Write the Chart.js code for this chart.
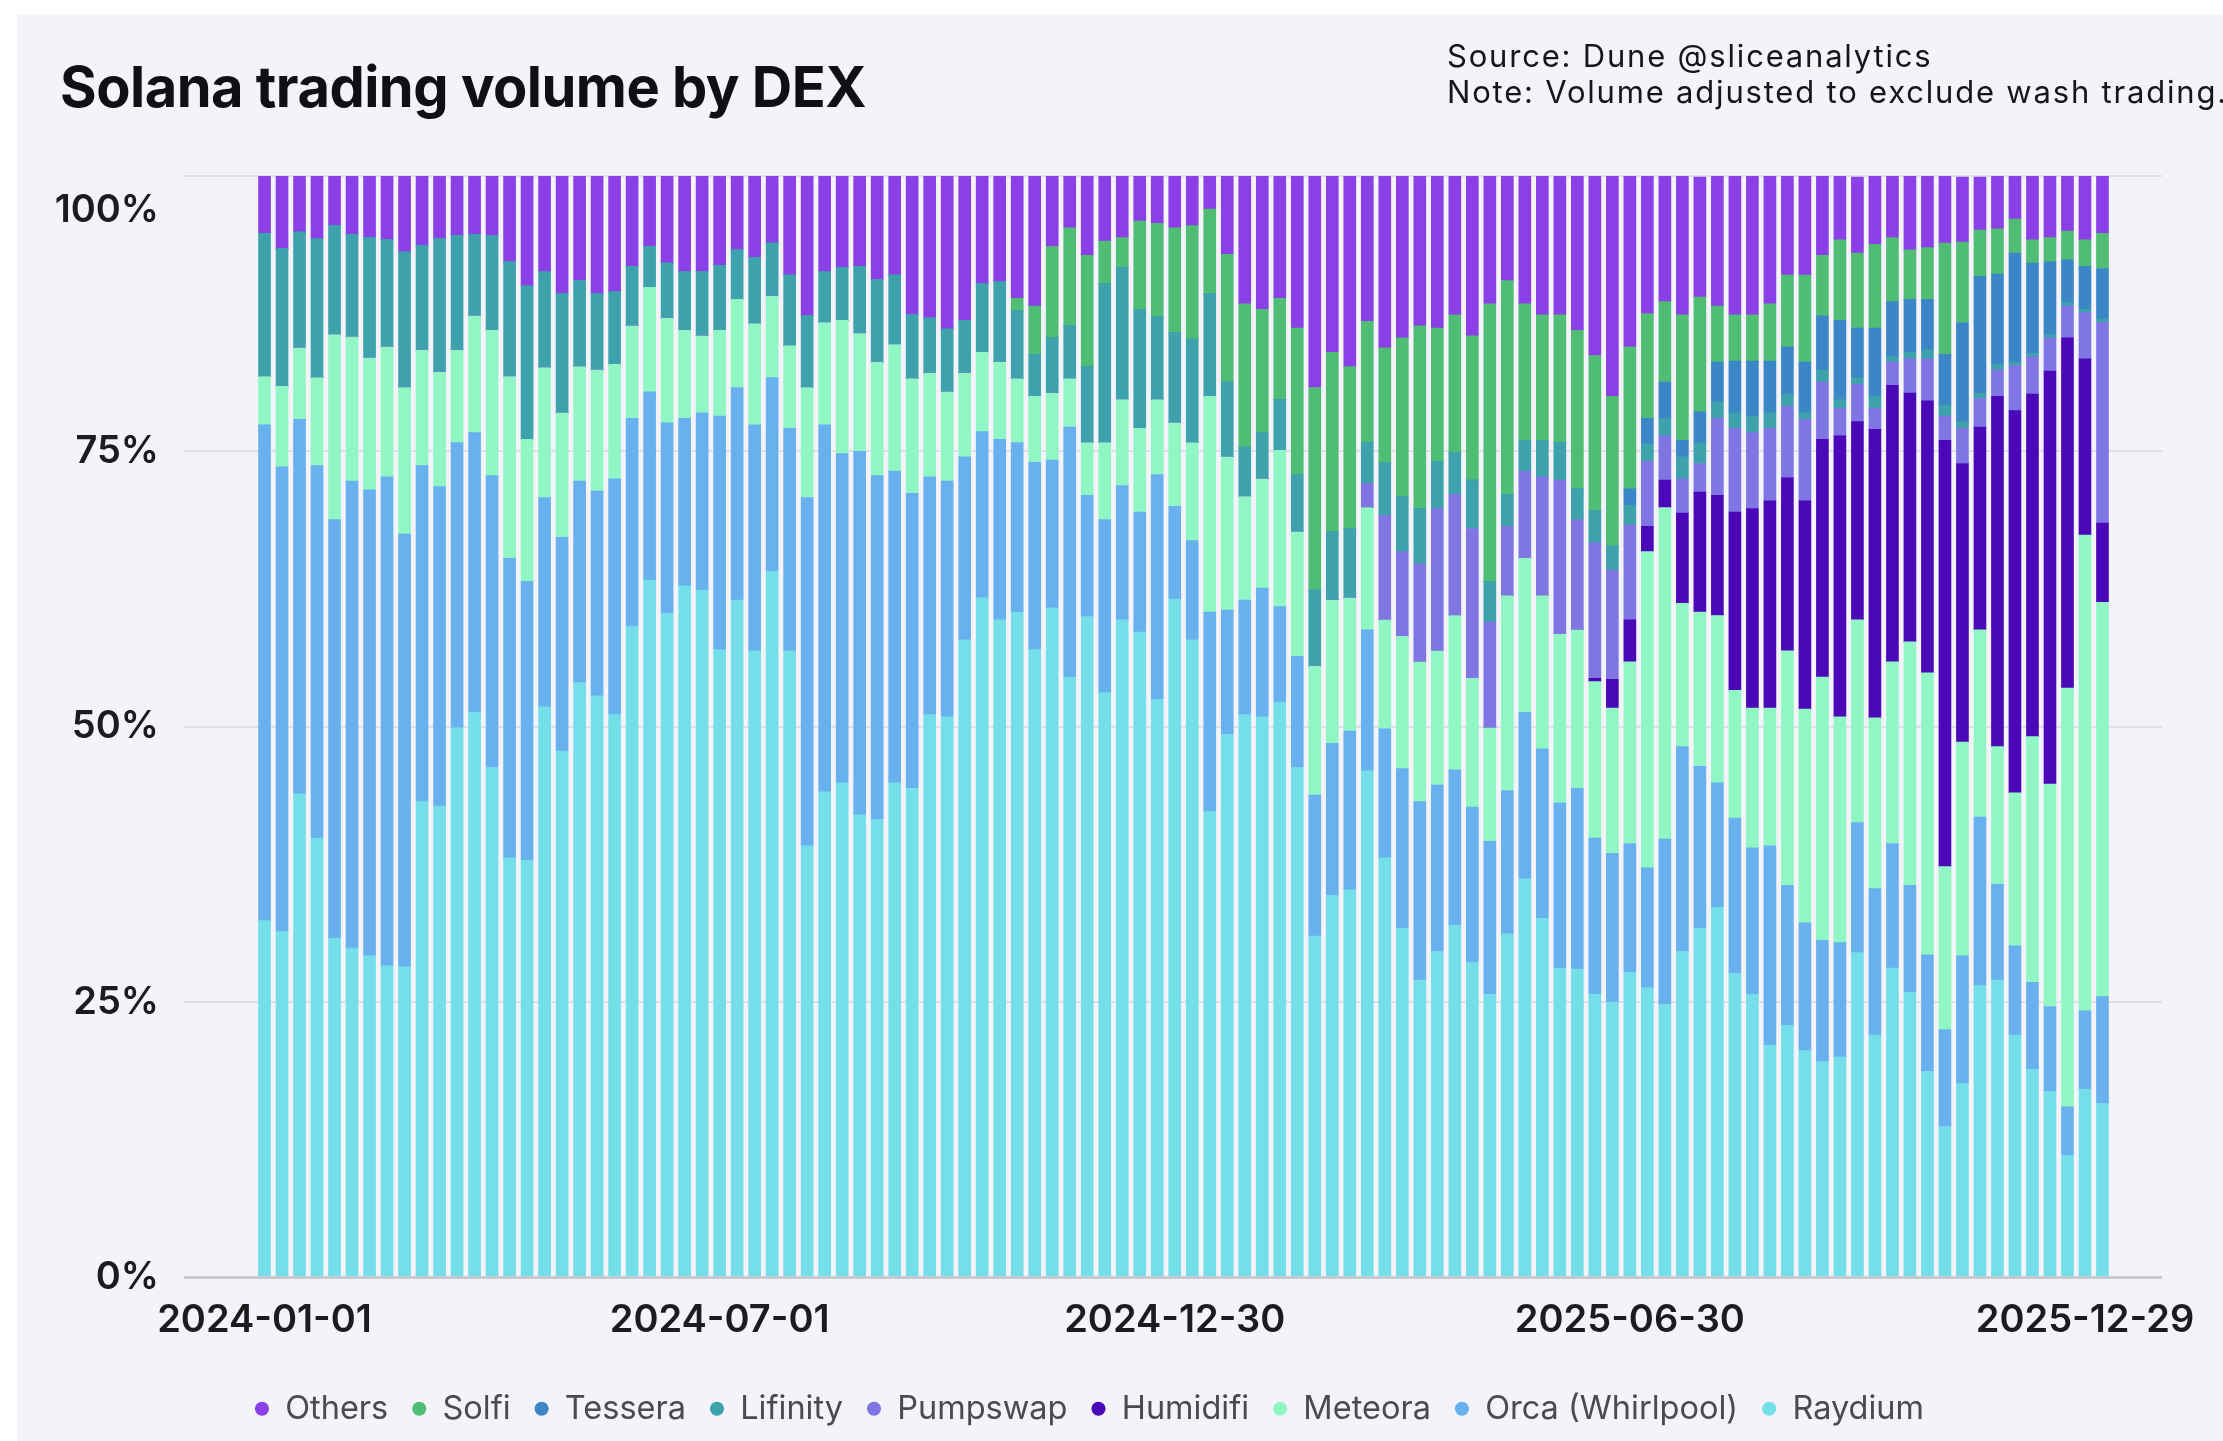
<!DOCTYPE html>
<html>
<head>
<meta charset="utf-8">
<script src="https://cdn.jsdelivr.net/npm/chart.js@4.4.1/dist/chart.umd.min.js"></script>
<style>
  html, body { margin: 0; padding: 0; background: #ffffff; overflow: hidden; }
  #card { position: absolute; left: 17px; top: 15px; width: 2206px; height: 1426px; background: #f4f3f9; overflow: hidden; }
  #title { position: absolute; left: 43px; top: 44px; font: 700 56px/1 Inter, sans-serif; color: #0f0f14; letter-spacing: -0.5px; white-space: nowrap; }
  #note { position: absolute; left: 1430px; top: 23px; font: 400 31px/36px Inter, sans-serif; color: #15151a; letter-spacing: 1.8px; white-space: nowrap; }
  #chart { position: absolute; left: 0; top: 0; }
</style>
</head>
<body>
<div id="card">
  <canvas id="chart" width="2206" height="1426"></canvas>
  <div id="title">Solana trading volume by DEX</div>
  <div id="note">Source: Dune @sliceanalytics<br>Note: Volume adjusted to exclude wash trading.</div>
</div>
<script>
// Weekly share of Solana DEX volume (%), one value per week from 2024-01-01
const tickWeeks = [0, 26, 52, 78, 104];
const tickLabels = ['2024-01-01', '2024-07-01', '2024-12-30', '2025-06-30', '2025-12-29'];

const raydium = [
  32.4, 31.4, 43.9, 39.9, 30.8, 29.9, 29.2, 28.3, 28.2, 43.2, 42.8, 49.9, 51.3, 46.3, 38.1, 37.9, 51.8, 47.8,
  54.0, 52.8, 51.1, 59.1, 63.3, 60.3, 62.8, 62.4, 57.0, 61.5, 56.9, 64.1, 56.9, 39.2, 44.1, 44.9, 42.0, 41.6,
  44.9, 44.4, 51.1, 50.9, 57.9, 61.7, 59.7, 60.4, 57.0, 60.8, 54.5, 60.0, 53.1, 59.7, 58.6, 52.5, 61.6, 57.9,
  42.3, 49.3, 51.1, 50.9, 52.2, 46.3, 31.0, 34.7, 35.2, 46.0, 38.1, 31.7, 27.0, 29.6, 32.0, 28.6, 25.7, 31.2,
  36.2, 32.6, 28.1, 28.0, 25.7, 25.0, 27.7, 26.3, 24.8, 29.6, 31.7, 33.6, 27.6, 25.7, 21.1, 22.9, 20.6, 19.6,
  20.0, 29.5, 22.0, 28.1, 25.9, 18.7, 13.7, 17.6, 26.5, 27.0, 22.0, 18.9, 16.9, 11.1, 17.1, 15.8
];
const orca = [
  45.0, 42.2, 34.0, 33.8, 38.0, 42.4, 42.3, 44.4, 39.3, 30.5, 29.0, 25.9, 25.4, 26.5, 27.2, 25.3, 19.0, 19.4,
  18.3, 18.6, 21.4, 18.9, 17.1, 17.3, 15.2, 16.1, 21.2, 19.3, 20.5, 17.6, 20.2, 31.6, 33.3, 29.9, 33.0, 31.2,
  28.3, 26.8, 21.6, 21.4, 16.6, 15.1, 16.4, 15.4, 17.0, 13.4, 22.7, 11.0, 15.7, 12.2, 10.9, 20.4, 8.4, 9.0,
  18.1, 11.3, 10.4, 11.7, 8.7, 10.1, 12.8, 13.8, 14.4, 12.8, 11.7, 14.5, 16.2, 15.1, 14.1, 14.1, 13.9, 13.0,
  15.1, 15.4, 15.0, 16.4, 14.2, 13.5, 11.7, 10.9, 15.0, 18.6, 14.7, 11.3, 14.1, 13.3, 18.1, 12.7, 11.6, 11.0,
  10.4, 11.8, 13.3, 11.3, 9.7, 10.6, 8.8, 11.6, 15.3, 8.7, 8.1, 7.9, 7.7, 4.4, 7.1, 9.7
];
const meteora = [
  4.4, 7.3, 6.5, 8.0, 16.8, 13.1, 12.0, 11.8, 13.3, 10.5, 10.4, 8.4, 10.6, 13.2, 16.5, 12.9, 11.8, 11.3,
  10.4, 11.0, 10.4, 8.4, 9.5, 9.5, 8.0, 7.0, 7.8, 8.0, 9.2, 7.4, 7.5, 10.0, 9.3, 12.1, 10.7, 10.3,
  11.5, 10.4, 9.4, 8.1, 7.6, 7.2, 7.0, 5.8, 6.0, 6.1, 4.4, 4.8, 7.0, 7.8, 7.6, 6.8, 7.6, 8.9,
  19.6, 13.9, 9.4, 9.9, 14.2, 11.3, 11.7, 13.0, 12.1, 11.1, 9.9, 12.0, 12.7, 12.2, 14.0, 11.7, 10.3, 17.7,
  14.0, 13.9, 15.3, 14.4, 14.2, 13.2, 16.5, 28.7, 30.1, 13.0, 14.0, 15.2, 11.6, 12.7, 12.5, 21.3, 19.4, 23.9,
  20.5, 18.4, 15.5, 16.5, 22.1, 25.6, 14.8, 19.4, 17.0, 12.5, 13.9, 22.3, 20.2, 38.0, 43.2, 35.8
];
const humidifi = [
  0, 0, 0, 0, 0, 0, 0, 0, 0, 0, 0, 0, 0, 0, 0, 0, 0, 0,
  0, 0, 0, 0, 0, 0, 0, 0, 0, 0, 0, 0, 0, 0, 0, 0, 0, 0,
  0, 0, 0, 0, 0, 0, 0, 0, 0, 0, 0, 0, 0, 0, 0, 0, 0, 0,
  0, 0, 0, 0, 0, 0, 0, 0, 0, 0, 0, 0, 0, 0, 0, 0, 0, 0,
  0, 0, 0, 0, 0.3, 2.6, 3.8, 2.3, 2.5, 8.2, 10.9, 10.9, 16.2, 18.1, 18.8, 15.7, 18.9, 21.6,
  25.5, 18.0, 26.2, 25.1, 22.6, 24.7, 38.7, 25.3, 18.4, 31.8, 34.7, 31.1, 37.5, 31.8, 16.0, 7.2
];
const pumpswap = [
  0, 0, 0, 0, 0, 0, 0, 0, 0, 0, 0, 0, 0, 0, 0, 0, 0, 0,
  0, 0, 0, 0, 0, 0, 0, 0, 0, 0, 0, 0, 0, 0, 0, 0, 0, 0,
  0, 0, 0, 0, 0, 0, 0, 0, 0, 0, 0, 0, 0, 0, 0, 0, 0, 0,
  0, 0, 0, 0, 0, 0, 0, 0, 0, 2.2, 9.5, 7.7, 8.9, 12.9, 11.0, 13.6, 9.6, 6.3,
  7.9, 10.8, 14.0, 10.0, 12.3, 9.9, 8.6, 5.9, 4.0, 3.1, 2.6, 7.0, 7.6, 6.9, 6.6, 6.5, 7.4, 5.2,
  2.5, 3.4, 1.9, 2.1, 3.1, 3.8, 2.2, 3.2, 2.6, 2.4, 4.1, 3.4, 3.0, 2.9, 4.2, 18.2
];
const lifinity = [
  13.0, 12.5, 10.5, 12.6, 9.9, 9.3, 10.9, 9.7, 12.3, 9.5, 12.1, 10.4, 7.4, 8.6, 10.4, 13.9, 8.7, 10.8,
  7.8, 6.9, 6.6, 5.4, 3.7, 5.0, 5.3, 5.8, 5.9, 4.5, 6.0, 4.8, 6.4, 6.5, 4.6, 4.8, 6.1, 7.5,
  6.3, 5.8, 5.0, 5.7, 4.8, 6.2, 7.3, 6.2, 3.8, 5.0, 4.8, 6.9, 14.4, 12.0, 10.8, 7.5, 8.2, 9.4,
  9.3, 6.8, 4.5, 4.2, 4.6, 5.2, 6.9, 6.2, 6.3, 3.7, 4.8, 5.0, 5.0, 4.3, 3.8, 4.4, 3.7, 2.9,
  2.8, 3.3, 3.4, 2.8, 2.9, 2.2, 1.8, 1.6, 1.6, 2.0, 1.9, 1.5, 1.4, 1.5, 1.4, 1.1, 0.6, 1.1,
  0.8, 0.6, 1.1, 0.5, 0.6, 0.8, 1.0, 0.6, 0.5, 0.5, 0.3, 0.3, 0.3, 0.3, 0.3, 0.3
];
const tessera = [
  0, 0, 0, 0, 0, 0, 0, 0, 0, 0, 0, 0, 0, 0, 0, 0, 0, 0,
  0, 0, 0, 0, 0, 0, 0, 0, 0, 0, 0, 0, 0, 0, 0, 0, 0, 0,
  0, 0, 0, 0, 0, 0, 0, 0, 0, 0, 0, 0, 0, 0, 0, 0, 0, 0,
  0, 0, 0, 0, 0, 0, 0, 0, 0, 0, 0, 0, 0, 0, 0, 0, 0, 0,
  0, 0, 0, 0, 0, 0, 1.5, 2.3, 3.3, 1.5, 2.8, 3.6, 4.7, 5.0, 4.7, 4.3, 4.6, 4.9,
  7.2, 4.5, 6.2, 5.0, 4.8, 4.6, 4.6, 9.0, 10.6, 8.2, 9.9, 8.2, 6.6, 3.9, 3.9, 4.6
];
const solfi = [
  0, 0, 0, 0, 0, 0, 0, 0, 0, 0, 0, 0, 0, 0, 0, 0, 0, 0,
  0, 0, 0, 0, 0, 0, 0, 0, 0, 0, 0, 0, 0, 0, 0, 0, 0, 0,
  0, 0, 0, 0, 0, 0, 0, 1.1, 4.4, 8.3, 8.9, 10.1, 3.9, 2.7, 8.0, 8.5, 9.5, 10.3,
  7.7, 11.6, 13.0, 11.2, 9.2, 13.3, 18.4, 16.3, 14.7, 11.0, 10.4, 14.4, 16.6, 12.1, 12.5, 13.1, 25.2, 19.4,
  12.4, 11.4, 11.6, 14.4, 14.1, 13.6, 12.9, 9.5, 7.3, 11.4, 10.4, 5.1, 4.2, 4.2, 5.2, 6.5, 7.9, 5.5,
  7.3, 6.8, 7.6, 5.8, 4.5, 4.7, 10.1, 7.3, 4.2, 4.1, 3.1, 2.1, 2.2, 2.6, 2.4, 3.2
];
const others = [
  5.2, 6.6, 5.1, 5.7, 4.5, 5.3, 5.6, 5.8, 6.9, 6.3, 5.7, 5.4, 5.3, 5.4, 7.8, 10.0, 8.7, 10.7,
  9.5, 10.7, 10.5, 8.2, 6.4, 7.9, 8.7, 8.7, 8.1, 6.7, 7.4, 6.1, 9.0, 12.7, 8.7, 8.3, 8.2, 9.4,
  9.0, 12.6, 12.9, 13.9, 13.1, 9.8, 9.6, 11.1, 11.8, 6.4, 4.7, 7.2, 5.9, 5.6, 4.1, 4.3, 4.7, 4.5,
  3.0, 7.1, 11.6, 12.1, 11.1, 13.8, 19.2, 16.0, 17.3, 13.2, 15.6, 14.7, 13.6, 13.8, 12.6, 14.5, 11.6, 9.5,
  11.6, 12.6, 12.6, 14.0, 16.3, 20.0, 15.5, 14.5, 11.4, 12.6, 10.9, 11.8, 12.6, 12.6, 11.6, 9.0, 9.0, 7.2,
  5.8, 6.9, 6.3, 5.6, 6.7, 6.5, 6.1, 5.9, 4.8, 4.8, 4.0, 5.8, 5.6, 5.0, 5.8, 5.2
];

// bottom of the stack first; the legend is shown reversed
const series = [
  { label: 'Raydium', data: raydium, color: '#74dfe8' },
  { label: 'Orca (Whirlpool)', data: orca, color: '#68b1ee' },
  { label: 'Meteora', data: meteora, color: '#8ff6c4' },
  { label: 'Humidifi', data: humidifi, color: '#4a08b8' },
  { label: 'Pumpswap', data: pumpswap, color: '#7f76e4' },
  { label: 'Lifinity', data: lifinity, color: '#3ea2ad' },
  { label: 'Tessera', data: tessera, color: '#3a86c6' },
  { label: 'Solfi', data: solfi, color: '#4fbd74' },
  { label: 'Others', data: others, color: '#8a3fe7' }
];

const toPoints = arr => arr.map((v, i) => ({ x: i, y: v }));

const ctx = document.getElementById('chart').getContext('2d');
const volumeChart = new Chart(ctx, {
  type: 'bar',
  data: {
    datasets: series.map(s => ({
      label: s.label,
      data: toPoints(s.data),
      backgroundColor: s.color,
      borderWidth: 0,
      barThickness: 12
    }))
  },
  options: {
    responsive: false,
    animation: false,
    devicePixelRatio: 1,
    layout: { padding: { top: 161, right: 61, bottom: 6, left: 0 } },
    scales: {
      x: {
        type: 'linear',
        stacked: true,
        offset: false,
        min: -4.6,
        max: 108.4,
        grid: { display: false },
        border: { display: false },
        afterBuildTicks: scale => { scale.ticks = tickWeeks.map(v => ({ value: v })); },
        afterFit: scale => { scale.height = 91; },
        ticks: {
          autoSkip: false,
          maxRotation: 0,
          padding: 12,
          color: '#1c1c1e',
          font: { family: 'Inter', size: 38, weight: '600' },
          callback: value => tickLabels[tickWeeks.indexOf(value)]
        }
      },
      y: {
        stacked: true,
        min: 0,
        max: 100,
        border: { display: false },
        grid: {
          drawTicks: false,
          color: c => c.tick.value === 0 ? '#c9c8d0' : '#e0dfe7',
          lineWidth: c => c.tick.value === 0 ? 3 : 2
        },
        afterFit: scale => { scale.width = 167; },
        ticks: {
          stepSize: 25,
          padding: 25,
          color: '#1c1c1e',
          font: { family: 'Inter', size: 38, weight: '600', lineHeight: 1.8 },
          // the top label sits just under its grid line
          callback: value => value === 100 ? ['', '100%'] : value + '%'
        }
      }
    },
    plugins: {
      tooltip: { enabled: false },
      legend: {
        position: 'bottom',
        reverse: true,
        labels: {
          usePointStyle: true,
          pointStyle: 'circle',
          boxWidth: 14,
          boxHeight: 10,
          padding: 24,
          color: '#4a4a50',
          font: { family: 'Inter', size: 32.5 }
        }
      }
    }
  }
});
</script>
</body>
</html>
